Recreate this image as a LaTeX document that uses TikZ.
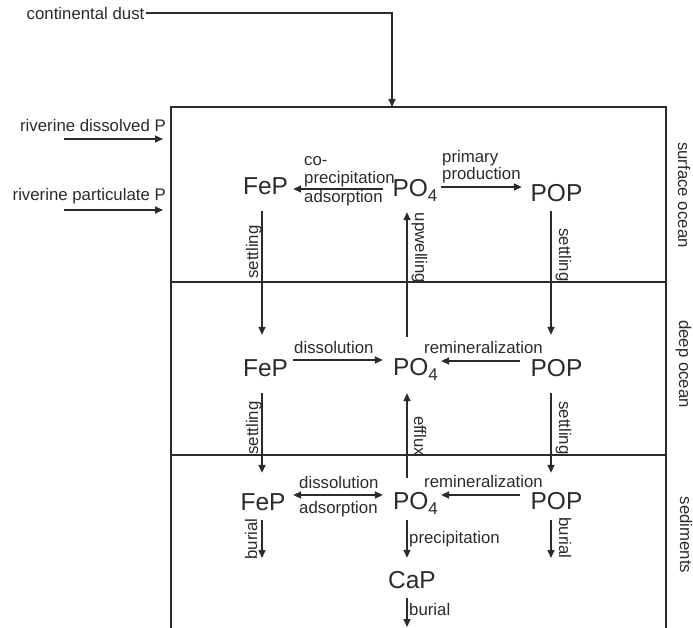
\documentclass[tikz,border=0pt]{standalone}
\usepackage{fontspec}
\setmainfont{Liberation Sans}
\usetikzlibrary{arrows.meta,calc}
\definecolor{ink}{HTML}{2B2B2B}
\newcommand{\POfour}{PO\raisebox{-5pt}{\fontsize{17}{17}\selectfont 4}}
\begin{document}
\begin{tikzpicture}[x=1pt,y=-1pt,
  species/.style={inner sep=0pt, text height=17.5pt, text depth=0pt, font=\fontsize{24.5}{24.5}\selectfont, text=ink},
  lbl/.style={inner sep=0pt, font=\fontsize{16.8}{16.8}\selectfont, text=ink, anchor=base west},
  lble/.style={inner sep=0pt, font=\fontsize{16.8}{16.8}\selectfont, text=ink, anchor=base east},
  vlbl/.style={inner sep=0pt, font=\fontsize{16.8}{16.8}\selectfont, text=ink, anchor=base, rotate=90},
  vlblr/.style={inner sep=0pt, font=\fontsize{16.8}{16.8}\selectfont, text=ink, anchor=base, rotate=-90},
  arr/.style={draw=ink, line width=1.5pt, -{Triangle[length=8pt,width=7pt]}},
  darr/.style={draw=ink, line width=1.5pt, {Triangle[length=8pt,width=7pt]}-{Triangle[length=8pt,width=7pt]}},
  boxline/.style={draw=ink, line width=1.8pt}]
\useasboundingbox (0,0) rectangle (693,628);

% compartments
\draw[boxline] (171,628) -- (171,107) -- (666,107) -- (666,628);
\draw[boxline] (171,282) -- (666,282);
\draw[boxline] (171,455) -- (666,455);

% external inputs
\node[lbl, anchor=west, inner sep=1.5pt] (dust) at (25,13) {continental dust};
\coordinate (dustin) at (392,107);
\draw[arr] (dust.east) -| (dustin);

\node[lble] (rdl) at (166,132) {riverine dissolved P};
\node[lble] (rpl) at (166,201) {riverine particulate P};
\coordinate (rdA) at (64,139);
\coordinate (rdB) at (163,139);
\coordinate (rpA) at (64,210);
\coordinate (rpB) at (163,210);
\draw[arr] (rdA) -- (rdB);
\draw[arr] (rpA) -- (rpB);

% species
\node[species] (fep1) at (265.5,186) {FeP};
\node[species] (po1)  at (415,187.5) {\POfour};
\node[species] (pop1) at (556.5,193) {POP};
\node[species] (fep2) at (265.5,367.5) {FeP};
\node[species] (po2)  at (415.5,367) {\POfour};
\node[species] (pop2) at (556.5,367.5) {POP};
\node[species] (fep3) at (263,501.5) {FeP};
\node[species] (po3)  at (415.5,501) {\POfour};
\node[species] (pop3) at (556.5,501) {POP};
\node[species] (cap)  at (412,580) {CaP};

% surface ocean fluxes
\draw[arr] ($(po1.west)+(-9.5,1.5)$) -- ($(fep1.east)+(5,3)$);
\draw[arr] ($(po1.east)+(3.5,-0.5)$) -- ($(pop1.west)+(-8.6,-6)$);
\draw[arr] ($(fep1.south)+(-3.5,16.25)$) -- ($(fep2.north)+(-3.5,-23.75)$);
\draw[arr] ($(po2.north)+(-8.5,-21.25)$) -- ($(po1.south)+(-8,15.75)$);
\draw[arr] ($(pop1.south)+(-5.5,9.25)$) -- ($(pop2.north)+(-5.5,-23.75)$);

\node[lbl] (cop) at (304,166) {co-};
\node[lbl] (prec1) at (304,184) {precipitation};
\node[lbl] (ads1) at (304,203) {adsorption};
\node[lbl] (prim) at (442,163) {primary};
\node[lbl] (prod) at (442,180) {production};
\node[vlbl] (set1) at (258,252) {settling};
\node[vlblr] (upw) at (415,248) {upwelling};
\node[vlblr] (set2) at (559,255) {settling};
\node[vlblr] (surf) at (678,195) {surface ocean};

% deep ocean fluxes
\draw[arr] ($(fep2.east)+(5,-7.5)$) -- ($(po2.west)+(-10,-7)$);
\draw[arr] ($(pop2.west)+(-10.6,-6.5)$) -- ($(po2.east)+(3,-6)$);
\draw[arr] ($(fep2.south)+(-3.5,16.75)$) -- ($(fep3.north)+(-1,-19.75)$);
\draw[arr] ($(po3.north)+(-8.5,-14.25)$) -- ($(po2.south)+(-8.5,17.25)$);
\draw[arr] ($(pop2.south)+(-5.5,16.75)$) -- ($(pop3.north)+(-5.5,-19.25)$);

\node[lbl] (diss2) at (294,353) {dissolution};
\node[lbl] (rem2) at (424,353) {remineralization};
\node[vlbl] (set3) at (258,428) {settling};
\node[vlblr] (eff) at (414,436) {efflux};
\node[vlblr] (set4) at (559,428) {settling};
\node[vlblr] (deep) at (679,364) {deep ocean};

% sediment fluxes
\draw[darr] ($(fep3.east)+(7.5,-6.5)$) -- ($(po3.west)+(-10,-6)$);
\draw[arr] ($(pop3.west)+(-10.6,-6)$) -- ($(po3.east)+(3,-6)$);
\coordinate (fepbur) at (262,558);
\coordinate (popbur) at (551,558);
\coordinate (capbur) at (407,627);
\draw[arr] ($(fep3.south)+(-1,9.75)$) -- (fepbur);
\draw[arr] ($(po3.south)+(-8.5,10.25)$) -- ($(cap.north)+(-5,-13.25)$);
\draw[arr] ($(pop3.south)+(-5.5,10.25)$) -- (popbur);
\draw[arr] ($(cap.south)+(-5,9.25)$) -- (capbur);

\node[lbl] (diss3) at (299,488) {dissolution};
\node[lbl] (ads3) at (299,513) {adsorption};
\node[lbl] (rem3) at (424,487) {remineralization};
\node[lbl] (precip3) at (409,543) {precipitation};
\node[lbl] (bur3) at (409,615) {burial};
\node[vlbl] (bur1) at (257,539) {burial};
\node[vlblr] (bur2) at (559,538) {burial};
\node[vlblr] (sed) at (680,535) {sediments};
\end{tikzpicture}
\end{document}
